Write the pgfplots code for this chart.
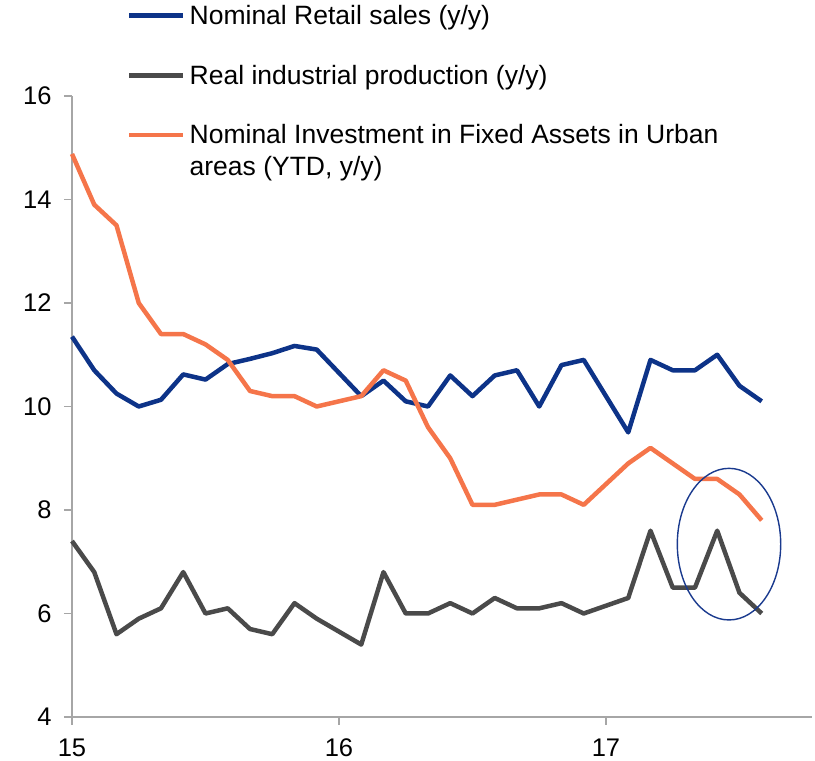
\documentclass[border=0pt]{standalone}
\usepackage{fontspec}
\setmainfont{Liberation Sans}
\usepackage{pgfplots}
\pgfplotsset{compat=1.18}
\usepackage{pgfplotstable}
\definecolor{cblue}{HTML}{0D3388}
\definecolor{cgrey}{HTML}{4A4A4A}
\definecolor{corange}{HTML}{F5754A}
\definecolor{caxis}{HTML}{A6A6A6}
\definecolor{cring}{HTML}{1A3A8E}

% month index: 0 = Jan 15, 12 = Jan 16, 24 = Jan 17
\pgfplotstableread{
m retail ip fai
0 11.35 7.4 14.88
1 10.7 6.8 13.9
2 10.25 5.6 13.5
3 10.0 5.9 12.0
4 10.13 6.1 11.4
5 10.62 6.8 11.4
6 10.52 6.0 11.2
7 10.82 6.1 10.9
8 10.92 5.7 10.3
9 11.03 5.6 10.2
10 11.17 6.2 10.2
11 11.1 5.9 10.0
13 10.2 5.4 10.2
14 10.5 6.8 10.7
15 10.1 6.0 10.5
16 10.0 6.0 9.6
17 10.6 6.2 9.0
18 10.2 6.0 8.1
19 10.6 6.3 8.1
20 10.7 6.1 8.2
21 10.0 6.1 8.3
22 10.8 6.2 8.3
23 10.9 6.0 8.1
25 9.5 6.3 8.9
26 10.9 7.6 9.2
27 10.7 6.5 8.9
28 10.7 6.5 8.6
29 11.0 7.6 8.6
30 10.4 6.4 8.3
31 10.1 6.0 7.8
}\data

\begin{document}
\begin{tikzpicture}
\path[use as bounding box] (-72pt,-44pt) rectangle (743pt,717pt);
\begin{axis}[
  at={(0pt,0pt)}, anchor=south west,
  scale only axis, width=740pt, height=621pt,
  xmin=0, xmax=33.26, ymin=4, ymax=16,
  axis x line*=bottom, axis y line*=left,
  axis line style={caxis, line width=1.5pt, -},
  xtick={0,12,24}, xticklabels={15,16,17},
  ytick={4,6,...,16},
  tick align=outside, major tick length=8pt,
  tick style={caxis, line width=1.5pt},
  tick label style={font=\fontsize{25.5}{30}\selectfont},
  xticklabel style={yshift=-10pt, text depth=0pt},
  yticklabel style={xshift=-9pt},
  /pgf/number format/assume math mode=true,
  clip=false,
  legend cell align=left,
  legend style={at={(0.0743,1.1465)}, anchor=north west, draw=none, fill=none,
    inner sep=0pt, row sep=39pt, column sep=4pt,
    font=\fontsize{26.5}{32}\selectfont,
    nodes={inner sep=0pt}},
  legend image code/.code={\draw[#1] (0pt,0pt) -- (54pt,0pt);},
]
\addplot[cblue, line width=4.5pt, line join=round] table[x=m, y=retail] {\data};
\addlegendentry{Nominal Retail sales (y/y)}
\addplot[cgrey, line width=4.5pt, line join=round] table[x=m, y=ip] {\data};
\addlegendentry{Real industrial production (y/y)}
\addplot[corange, line width=4.5pt, line join=round] table[x=m, y=fai] {\data};
\addlegendentry{\vtop{\baselineskip=32pt\hbox{Nominal Investment in Fixed Assets in Urban}\hbox{areas (YTD, y/y)}}}
\draw[cring, line width=1.4pt] (axis cs:29.53,7.34) ellipse [x radius=51.7pt, y radius=75.8pt];
\end{axis}
\end{tikzpicture}
\end{document}
